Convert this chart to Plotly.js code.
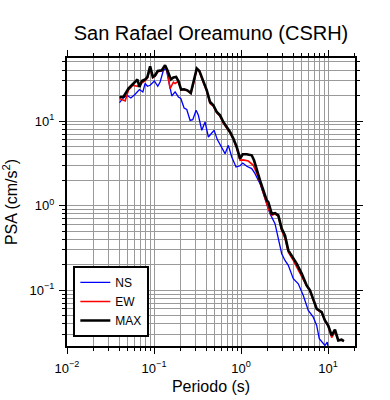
<!DOCTYPE html>
<html>
<head>
<meta charset="utf-8">
<script src="https://cdn.plot.ly/plotly-3.0.1.min.js"></script>
<style>html,body{margin:0;padding:0;background:#fff;}#chart{width:390px;height:400px;}</style>
</head>
<body>
<div id="chart"></div>
<script>
// Periods (s) and PSA (cm/s^2)
const periodNS = [0.0401,0.0445,0.0487,0.0542,0.0607,0.068,0.0744,0.079,0.084,0.0902,0.101,0.1105,0.1175,0.1282,0.1377,0.1463,0.16,0.1747,0.1906,0.2031,0.2216,0.2379,0.2597,0.2789,0.3043,0.3234,0.3538,0.3861,0.4213,0.4609,0.4898,0.5343,0.6003,0.6551,0.7148,0.782,0.8762,0.974,1.046,1.163,1.327,1.448,1.652,1.803,2.004,2.153,2.457,2.681,2.933,3.2,3.492,3.986,4.549,5.192,5.925,6.763,7.4,7.925,8.67,9.21,9.79,10.05];
const psaNS = [16.55,18.77,20.2,18.77,20.76,23.6,22.1,27.8,25.8,26.5,29.8,25.8,29.0,39.9,41.8,30.4,19.8,22.1,19.3,18.5,14.3,13.7,10.2,10.4,13.4,11.7,7.78,9.76,6.48,7.23,7.78,6.04,4.94,4.12,5.17,3.76,2.86,2.96,3.19,2.92,2.74,2.39,1.82,1.39,1.01,0.804,0.612,0.425,0.27,0.225,0.197,0.137,0.119,0.0868,0.0577,0.048,0.0383,0.0267,0.0243,0.0222,0.0243,0.0208];

const periodEW = [0.0401,0.0466,0.0508,0.0571,0.0645,0.0692,0.0755,0.084,0.0902,0.0969,0.103,0.1105,0.1229,0.134,0.1425,0.153,0.167,0.1747,0.1906,0.2048,0.2216,0.2417,0.2646,0.2834,0.31,0.332,0.3634,0.404,0.4405,0.4808,0.526,0.574,0.626,0.685,0.7475,0.816,0.892,0.974,1.054,1.213,1.384,1.58,1.803,2.058,2.251,2.457,2.681,2.933,3.2,3.492,3.986,4.757,5.68,6.2,6.763,7.4,8.444,9.21,10.05,11.0,12.0,13.1,14.3,15.2];
const psaEW = [18.5,17.3,23.1,26.5,25.8,27.8,29.0,32.1,41.8,32.5,33.9,38.3,39.4,44.5,37.8,24.2,28.8,27.8,29.6,23.5,23.5,22.8,21.3,27.3,41.0,38.3,29.6,22.5,16.1,15.0,12.5,11.4,9.42,8.33,7.27,6.09,4.77,3.44,3.48,3.37,3.0,2.18,1.39,0.922,0.768,0.80,0.747,0.51,0.41,0.282,0.225,0.157,0.112,0.098,0.0778,0.0593,0.0546,0.0433,0.0373,0.0276,0.0325,0.0255,0.026,0.0248];

const periodMAX = [0.0401,0.0445,0.0508,0.058,0.0645,0.068,0.0724,0.079,0.084,0.0902,0.0969,0.103,0.1105,0.1229,0.134,0.1425,0.156,0.167,0.1794,0.1906,0.2048,0.2216,0.2417,0.2646,0.2834,0.31,0.332,0.3634,0.404,0.4405,0.4808,0.526,0.574,0.626,0.685,0.7475,0.816,0.892,0.974,1.046,1.163,1.327,1.41,1.515,1.652,1.803,1.973,2.058,2.251,2.457,2.681,2.933,3.2,3.492,3.821,4.36,4.976,5.68,6.2,6.763,7.4,8.444,9.21,10.05,11.0,12.0,13.1,14.3,15.2];
const psaMAX = [19.3,19.3,24.2,27.8,31.0,25.3,29.8,31.0,33.3,44.5,33.3,34.8,39.2,39.9,45.8,39.9,31.0,32.7,33.3,29.8,23.6,23.8,23.1,21.5,27.8,41.8,39.2,30.4,23.1,16.8,15.4,12.8,11.7,9.76,8.51,7.43,6.21,4.94,3.6,4.05,4.05,3.94,3.44,2.62,1.99,1.52,1.155,1.10,0.804,0.817,0.768,0.534,0.445,0.296,0.258,0.206,0.157,0.114,0.0995,0.0793,0.0604,0.0551,0.0439,0.0383,0.0292,0.0341,0.0255,0.026,0.025];

const seriesNames = ['NS','EW','MAX'];
const xTickVals = [0.01, 0.1, 1, 10];
const xTickText = ['10<sup>\u22122</sup>', '10<sup>\u22121</sup>', '10<sup>0</sup>', '10<sup>1</sup>'];
const yTickVals = [0.1, 1, 10];
const yTickText = ['10<sup>\u22121</sup>', '10<sup>0</sup>', '10<sup>1</sup>'];
const titleText = 'San Rafael Oreamuno (CSRH)';
const xTitle = 'Periodo (s)';
const yTitle = 'PSA (cm/s<sup>2</sup>)';

const FONT = 'Liberation Sans, Arial, Helvetica, sans-serif';
const gridCol = '#9a9a9a';

const traces = [
  {x: periodNS, y: psaNS, name: seriesNames[0], mode: 'lines', line: {color: '#0000ff', width: 1.3}},
  {x: periodEW, y: psaEW, name: seriesNames[1], mode: 'lines', line: {color: '#ff0000', width: 1.6}},
  {x: periodMAX, y: psaMAX, name: seriesNames[2], mode: 'lines', line: {color: '#000000', width: 2.6}}
];

function axisBase(vals, text) {
  return {
    type: 'log', tickmode: 'array', tickvals: vals, ticktext: text,
    showline: true, linewidth: 2, linecolor: '#000', mirror: 'allticks',
    ticks: 'outside', ticklen: 6, tickwidth: 1, tickcolor: '#000',
    showgrid: true, gridcolor: gridCol, gridwidth: 1, zeroline: false,
    minor: {dtick: 'D1', ticks: 'outside', ticklen: 3, tickwidth: 1, tickcolor: '#000', showgrid: true, gridcolor: gridCol, gridwidth: 1},
    tickfont: {family: FONT, size: 13, color: '#000'}
  };
}

const xaxis = Object.assign(axisBase(xTickVals, xTickText), {
  range: [-2, Math.log10(20.4)],
  ticklabelstandoff: 3,
  title: {text: xTitle, font: {family: FONT, size: 16, color: '#000'}, standoff: 6}
});
const yaxis = Object.assign(axisBase(yTickVals, yTickText), {
  range: [Math.log10(0.0219), Math.log10(55.7)],
  ticklabelstandoff: 2,
  title: {text: yTitle, font: {family: FONT, size: 16, color: '#000'}, standoff: 8}
});

const layout = {
  width: 390, height: 400,
  margin: {l: 67, r: 35, t: 58, b: 54},
  paper_bgcolor: '#fff', plot_bgcolor: '#fff',
  font: {family: FONT, color: '#000'},
  title: {text: titleText, font: {family: FONT, size: 20, color: '#000'}, x: 0.5, xref: 'paper', xanchor: 'center', y: 0.9175, yanchor: 'middle'},
  xaxis: xaxis, yaxis: yaxis,
  showlegend: true,
  legend: {x: 0.022, y: 0.278, xanchor: 'left', yanchor: 'top', bgcolor: '#fff', bordercolor: '#000', borderwidth: 2, font: {family: FONT, size: 12, color: '#000'}, traceorder: 'normal'}
};

Plotly.newPlot('chart', traces, layout, {displayModeBar: false, staticPlot: true});
</script>
</body>
</html>
